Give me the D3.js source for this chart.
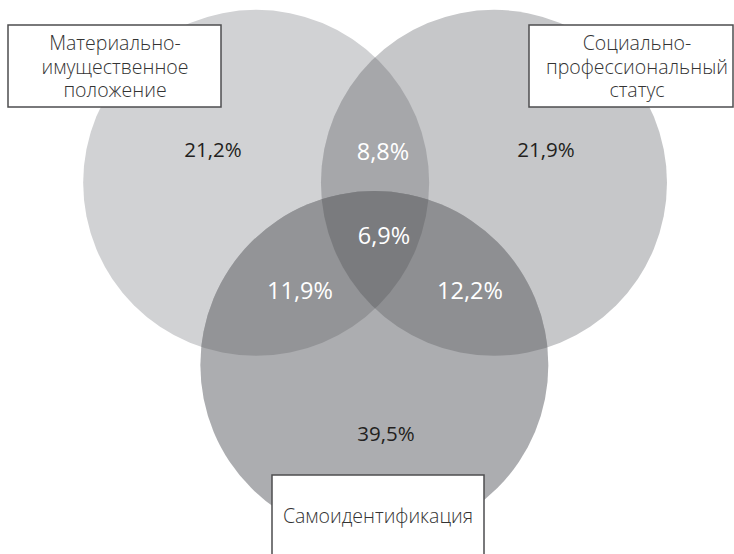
<!DOCTYPE html>
<html>
<head>
<meta charset="utf-8">
<script src="https://cdn.jsdelivr.net/npm/d3@7"></script>
<style>
  body { margin: 0; background: #fff; }
  text { font-family: "Open Sans", "Noto Sans", sans-serif; }
</style>
</head>
<body>
<div id="venn"></div>
<script>
// sets and their labels
let sets = ["mat", "soc", "self"];
let setLabels = [
  ["Материально-", "имущественное", "положение"],
  ["Социально-", "профессиональный", "статус"],
  ["Самоидентификация"]
];
// share of answers in every region of the diagram
let regions = ["mat", "soc", "self", "mat&soc", "mat&self", "soc&self", "mat&soc&self"];
let values = [21.2, 21.9, 39.5, 8.8, 11.9, 12.2, 6.9];

let width = 734,
    height = 554;

let svg = d3.select("#venn")
  .append("svg")
  .attr("width", width)
  .attr("height", height);

// layout in diagram units, mapped to pixels by one scale
let x = d3.scaleLinear().domain([0, 100]).range([0, width]);
let y = d3.scaleLinear().domain([0, 100]).range([0, height]);

let circles = {
  mat:  { cx: x(34.9), cy: y(33.0), r: 173 },
  soc:  { cx: x(67.3), cy: y(33.0), r: 173 },
  self: { cx: x(51.0), cy: y(65.9), r: 174 }
};

let fills = {
  "mat": "#d1d2d4",
  "soc": "#c6c7c9",
  "self": "#acadb0",
  "mat&soc": "#a6a7aa",
  "mat&self": "#939497",
  "soc&self": "#8e8f92",
  "mat&soc&self": "#7a7b7e"
};

// label spot for each region [x, y] in pixels
let labelPos = {
  "mat": [213, 157],
  "soc": [546, 157],
  "self": [386, 441],
  "mat&soc": [383, 160],
  "mat&self": [300, 299],
  "soc&self": [470, 299],
  "mat&soc&self": [384, 244]
};

let defs = svg.append("defs");
sets.forEach(s => {
  let c = circles[s];
  defs.append("clipPath").attr("id", "clip-" + s)
    .append("circle")
    .attr("cx", c.cx).attr("cy", c.cy).attr("r", c.r);
});

let shapes = svg.append("g");

// draw each region as the last circle of its sets, clipped by the others
regions.forEach(key => {
  let parts = key.split("&");
  let g = shapes;
  parts.slice(0, -1).forEach(p => {
    g = g.append("g").attr("clip-path", "url(#clip-" + p + ")");
  });
  let c = circles[parts[parts.length - 1]];
  g.append("circle")
    .attr("cx", c.cx).attr("cy", c.cy).attr("r", c.r)
    .attr("fill", fills[key]);
});

let fmt = v => d3.format(".1f")(v).replace(".", ",") + "%";

svg.selectAll(".value")
  .data(regions)
  .enter()
  .append("text")
  .classed("value", true)
  .attr("x", d => labelPos[d][0])
  .attr("y", d => labelPos[d][1])
  .attr("text-anchor", "middle")
  .style("font-size", d => d.indexOf("&") > 0 ? "23.5px" : "20.5px")
  .style("fill", d => d.indexOf("&") > 0 ? "#ffffff" : "#231f20")
  .text((d, i) => fmt(values[i]));

// boxes with set names
let boxes = [
  { x: 8, y: 25, w: 213, h: 82, tx: 115, ty: 50 },
  { x: 529, y: 25, w: 204, h: 82, tx: 637, ty: 50 },
  { x: 272, y: 475, w: 212, h: 90, tx: 378, ty: 523 }
];

boxes.forEach((b, i) => {
  svg.append("rect")
    .attr("x", b.x).attr("y", b.y)
    .attr("width", b.w).attr("height", b.h)
    .attr("fill", "#fff")
    .attr("stroke", "#4d4d4f")
    .attr("stroke-width", 1.5);

  svg.append("text")
    .attr("x", b.tx)
    .attr("y", b.ty)
    .attr("text-anchor", "middle")
    .style("font-size", "19.5px")
    .style("font-weight", 300)
    .style("fill", "#333")
    .selectAll("tspan")
    .data(setLabels[i])
    .enter()
    .append("tspan")
    .attr("x", b.tx)
    .attr("dy", (d, j) => j ? 23.5 : 0)
    .text(d => d);
});
</script>
</body>
</html>
